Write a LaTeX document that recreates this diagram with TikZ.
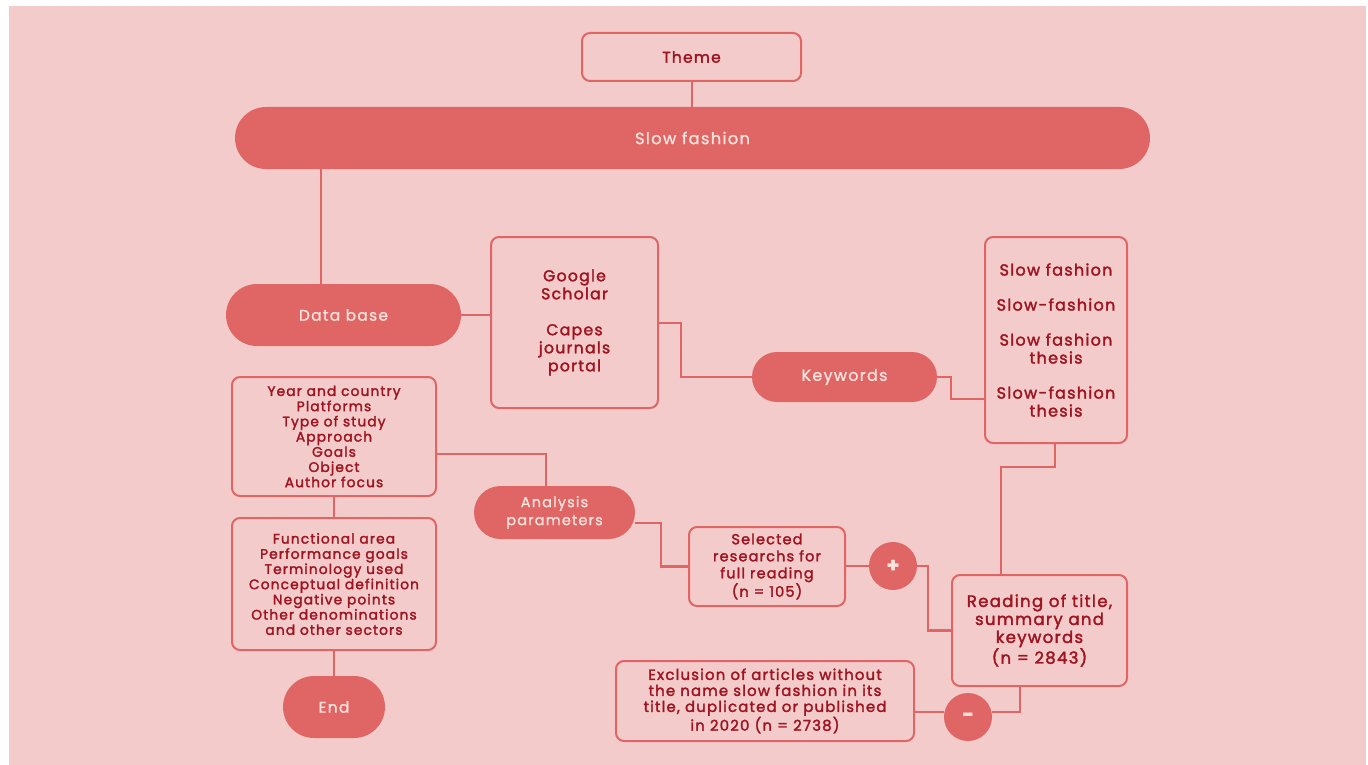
\documentclass[tikz,border=0pt]{standalone}
\usepackage{fontspec}
\setmainfont{Poppins}[LetterSpace=8,FakeBold=2]
\newfontfamily\wfont{Poppins}[LetterSpace=8,FakeBold=1]
\usetikzlibrary{shapes.misc,backgrounds}
\definecolor{bgc}{RGB}{243,203,203}
\definecolor{fillc}{RGB}{224,102,102}
\definecolor{txt}{RGB}{158,20,32}
\definecolor{wtxt}{RGB}{251,228,222}
\newcommand\myfs[2]{\fontsize{#1}{#2}\selectfont}
\begin{document}
\begin{tikzpicture}[x=1pt,y=-1pt,
  box/.style={draw=fillc, line width=2pt, rounded corners=8pt, fill=bgc, text=txt, align=center, inner sep=0pt},
  pill/.style={rounded rectangle, fill=fillc, draw=none, text=wtxt, align=center, inner sep=0pt, font=\wfont\myfs{15.5}{18}},
  sign/.style={circle, fill=fillc, text=wtxt, minimum size=48pt, inner sep=0pt, font=\myfs{20}{20}\bfseries},
  conn/.style={draw=fillc, line width=2pt},
  big/.style={font=\myfs{15.5}{18}},
  small/.style={font=\myfs{13.8}{15.2}}
]
\useasboundingbox (0,0) rectangle (1368,765);

\node[box, big, minimum width=219pt, minimum height=48pt] (theme) at (691.5,57) {Theme};
\node[pill, font=\wfont\myfs{16.3}{18}, minimum width=915pt, minimum height=62pt] (sf) at (692.5,138) {Slow fashion};
\node[pill, minimum width=235pt, minimum height=62pt] (db) at (343.5,315) {Data base};
\node[box, font=\myfs{15.7}{18}, minimum width=167pt, minimum height=171pt] (google) at (574.5,322.5) {Google\\Scholar\\[18pt]Capes\\journals\\portal};
\node[pill, font=\wfont\myfs{16}{18}, minimum width=185pt, minimum height=50pt] (kw) at (844.5,377) {Keywords};
\node[box, font=\myfs{16}{18}, minimum width=142pt, minimum height=206pt] (kwbox) at (1056,340) {Slow fashion\\[17pt]Slow-fashion\\[17pt]Slow fashion\\thesis\\[17pt]Slow-fashion\\thesis};
\node[box, font=\myfs{16.5}{18}, minimum width=175pt, minimum height=111pt] (reading) at (1039.5,630.5) {Reading of title,\\summary and\\keywords\\(n = 2843)};
\node[sign] (plus) at (893,566) {+};
\node[box, font=\myfs{14.5}{17}, minimum width=156pt, minimum height=79pt] (sel) at (767,566.5) {Selected\\researchs for\\full reading\\(n = 105)};
\node[pill, font=\wfont\myfs{14.5}{18}, minimum width=161pt, minimum height=53pt] (ana) at (554.5,512.5) {Analysis\\parameters};
\node[box, small, minimum width=204pt, minimum height=119pt] (abox) at (334,436.5) {Year and country\\Platforms\\Type of study\\Approach\\Goals\\Object\\Author focus};
\node[box, small, minimum width=204pt, minimum height=132pt] (box2) at (334,584) {Functional area\\Performance goals\\Terminology used\\Conceptual definition\\Negative points\\Other denominations\\and other sectors};
\node[pill, minimum width=102pt, minimum height=62pt] (end) at (334,707) {End};
\node[sign] (minus) at (968,717) {-};
\node[box, font=\myfs{14.9}{16}, minimum width=298pt, minimum height=80pt] (excl) at (765,701) {Exclusion of articles without\\the name slow fashion in its\\title, duplicated or published\\in 2020 (n = 2738)};

\begin{scope}[on background layer]
\fill[white] (0,0) rectangle (1368,765);
\fill[bgc] (9,6) rectangle (1366,765);
\draw[conn] (theme.south) -- (sf.north -| theme.south);
\draw[conn] (sf.south -| 321,0) -- (db.north -| 321,0);
\draw[conn] (db.east) -- (google.west |- db.east);
\draw[conn] (google.east) -- ++(22,0) |- (kw.west);
\draw[conn] (kw.east) -- ++(14,0) |- (kwbox.west |- 0,399);
\draw[conn] (kwbox.south -| 1055,0) -- (1055,467) -- (1001,467) -- (reading.north -| 1001,0);
\draw[conn, line width=2.6pt] (reading.west) -- ++(-23,0) |- (plus.east);
\draw[conn] (plus.west) -- (sel.east |- plus.west);
\draw[conn, line width=2.6pt] (sel.west) -- ++(-27,0) |- (ana.east |- 0,523);
\draw[conn, line width=2.6pt] (ana.north -| 546,0) |- (abox.east |- 0,454);
\draw[conn] (abox.south) -- (box2.north);
\draw[conn] (box2.south) -- (end.north);
\draw[conn] (reading.south -| 1020,0) |- (minus.east |- 0,712);
\draw[conn] (minus.west |- 0,712) -- (excl.east |- 0,712);
\end{scope}
\end{tikzpicture}
\end{document}
